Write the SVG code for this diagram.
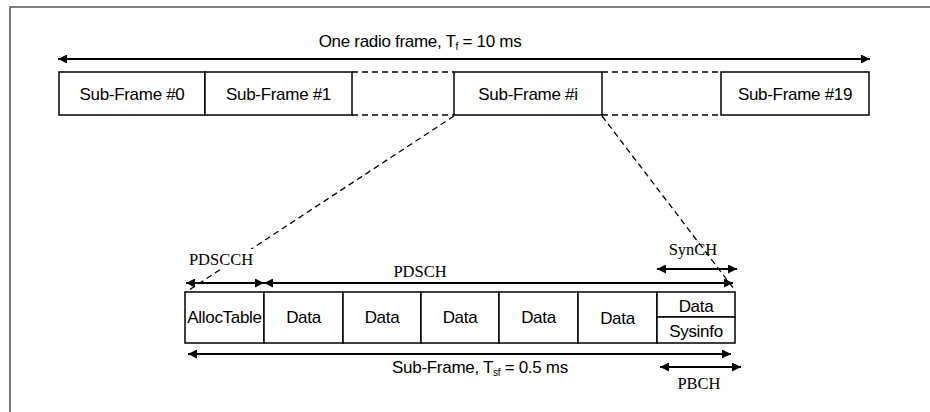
<svg xmlns="http://www.w3.org/2000/svg" width="930" height="412" viewBox="0 0 930 412">
<defs>
<marker id="ah" viewBox="0 0 10 10" refX="10" refY="5" markerWidth="11" markerHeight="9" markerUnits="userSpaceOnUse" orient="auto-start-reverse">
<path d="M0,0 L10,5 L0,10 Z" fill="#000"/>
</marker>
<style>
.box{fill:#fff;stroke:#000;stroke-width:1.5}
.sans{font-family:"Liberation Sans",Arial,sans-serif;font-size:17px;letter-spacing:-0.3px;fill:#000;text-anchor:middle}
.serif{font-family:"Liberation Serif","Times New Roman",serif;font-size:16.5px;fill:#000;text-anchor:middle}
.arr{stroke:#000;stroke-width:2;fill:none;marker-start:url(#ah);marker-end:url(#ah)}
.dash{stroke:#000;stroke-width:1.3;stroke-dasharray:6,4;fill:none}
</style>
</defs>
<rect width="930" height="412" fill="#fff"/>
<path d="M10,412 V7 H930" fill="none" stroke="#555" stroke-width="1.6"/>

<g id="connectors">
<line class="arr" x1="58" y1="59" x2="870" y2="59" stroke-width="2.4"/>
<line class="dash" x1="352" y1="72" x2="454" y2="72"/>
<line class="dash" x1="352" y1="115" x2="454" y2="115"/>
<line class="dash" x1="602" y1="72" x2="721" y2="72"/>
<line class="dash" x1="602" y1="115" x2="721" y2="115"/>
<line class="dash" x1="454" y1="116" x2="186" y2="292"/>
<line class="dash" x1="602" y1="116" x2="734" y2="289"/>
<line class="arr" x1="186" y1="283" x2="264" y2="283"/>
<line class="arr" x1="264" y1="283" x2="733" y2="283"/>
<line class="arr" x1="657" y1="269" x2="737" y2="269"/>
<line class="arr" x1="188" y1="354" x2="731" y2="354"/>
<line class="arr" x1="660" y1="367" x2="741" y2="367"/>
</g>

<g id="title"><text class="sans" x="420" y="47">One radio frame, T<tspan font-size="10" dy="3">f</tspan><tspan dy="-3"> = 10 ms</tspan></text></g>

<g id="sf0"><rect class="box" x="59" y="72" width="146" height="43"/><text class="sans" x="132" y="100">Sub-Frame #0</text></g>
<g id="sf1"><rect class="box" x="205" y="72" width="147" height="43"/><text class="sans" x="278.5" y="100">Sub-Frame #1</text></g>
<g id="sfi"><rect class="box" x="454" y="72" width="148" height="43"/><text class="sans" x="528" y="100">Sub-Frame #i</text></g>
<g id="sf19"><rect class="box" x="721" y="72" width="148" height="43"/><text class="sans" x="795" y="100">Sub-Frame #19</text></g>

<g id="pdscch-label"><rect x="187" y="249" width="68" height="19" fill="#fff"/><text class="serif" x="221" y="265">PDSCCH</text></g>
<g id="pdsch-label"><text class="serif" x="420" y="277">PDSCH</text></g>
<g id="synch-label"><text class="serif" x="693" y="255">SynCH</text></g>
<g id="pbch-label"><text class="serif" x="699" y="389">PBCH</text></g>

<g id="alloc"><rect class="box" x="185" y="292" width="79" height="51"/><text class="sans" x="224.5" y="323" font-size="15.5">AllocTable</text></g>
<g id="data1"><rect class="box" x="264" y="292" width="79" height="51"/><text class="sans" x="303.5" y="323">Data</text></g>
<g id="data2"><rect class="box" x="343" y="292" width="78" height="51"/><text class="sans" x="382" y="323">Data</text></g>
<g id="data3"><rect class="box" x="421" y="292" width="78" height="51"/><text class="sans" x="460" y="323">Data</text></g>
<g id="data4"><rect class="box" x="499" y="292" width="79" height="51"/><text class="sans" x="538.5" y="323">Data</text></g>
<g id="data5"><rect class="box" x="578" y="292" width="79" height="51"/><text class="sans" x="617.5" y="324">Data</text></g>
<g id="data6"><rect class="box" x="657" y="292" width="78" height="25"/><text class="sans" x="696" y="312">Data</text></g>
<g id="sysinfo"><rect class="box" x="657" y="317" width="78" height="26"/><text class="sans" x="696" y="337">Sysinfo</text></g>

<g id="sf-label"><text class="sans" x="480" y="373">Sub-Frame, T<tspan font-size="10" dy="3">sf</tspan><tspan dy="-3"> = 0.5 ms</tspan></text></g>
</svg>
